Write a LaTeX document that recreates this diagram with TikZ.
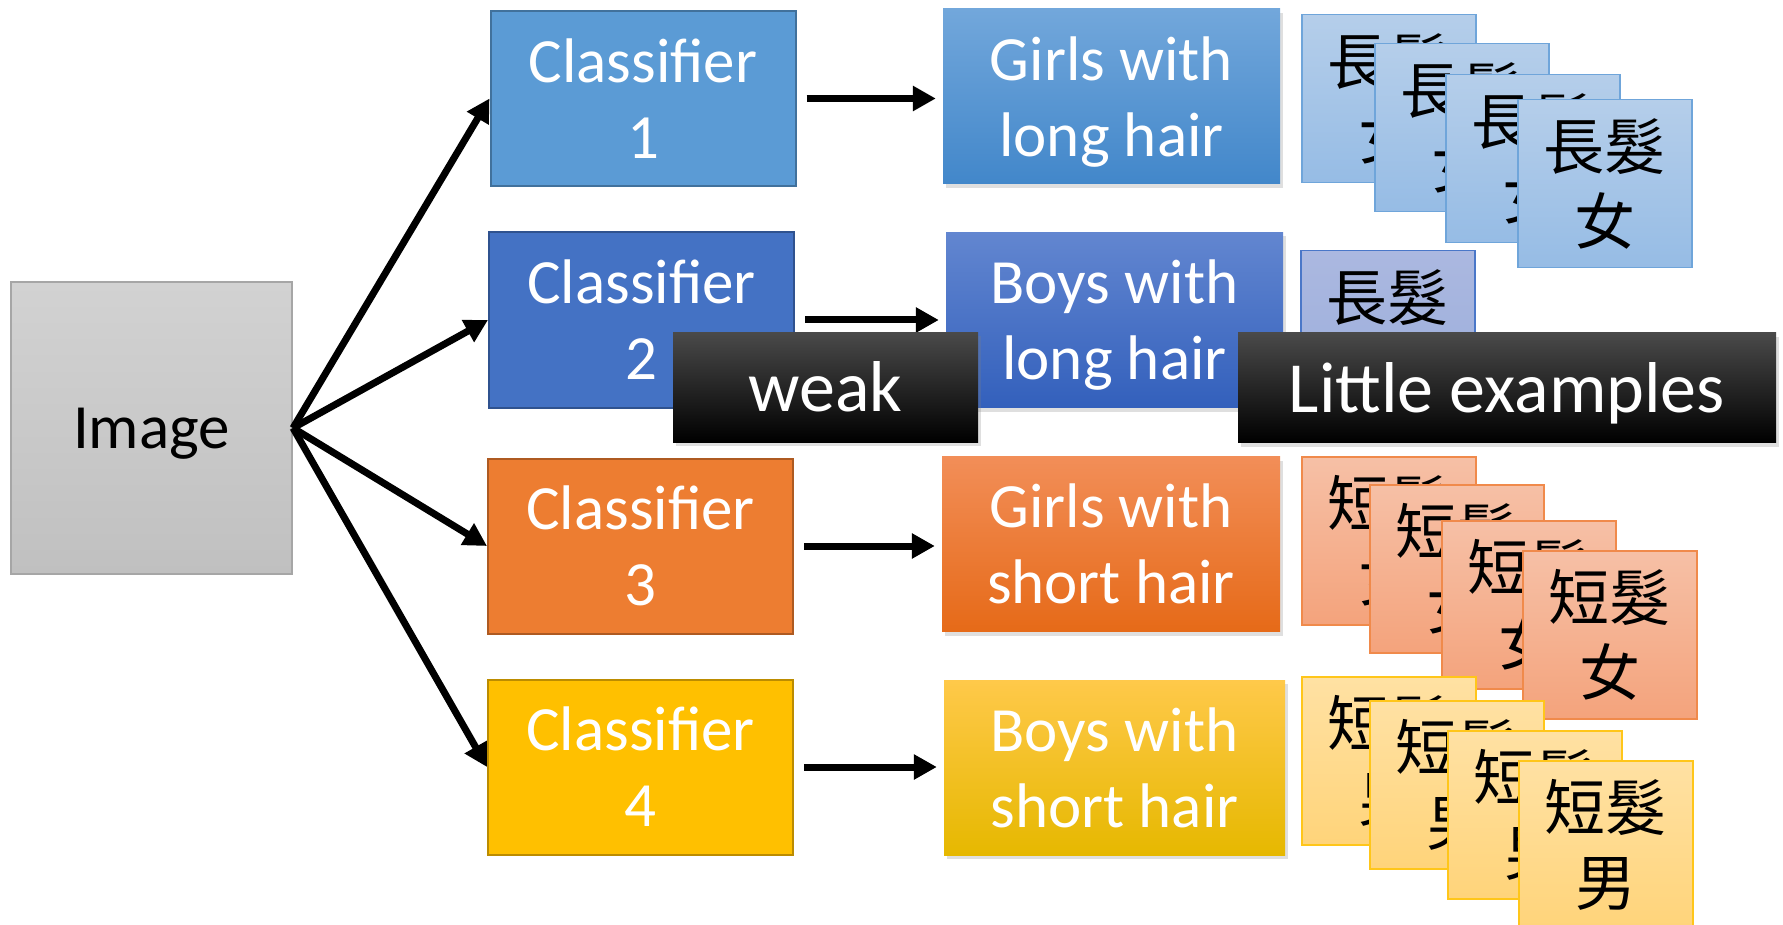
\documentclass[tikz,border=0pt]{standalone}
\usepackage{fontspec}
\setmainfont{Carlito}
\newfontfamily\cjkfont{Noto Sans CJK TC}
\usetikzlibrary{arrows.meta}
\usetikzlibrary{shadows}

\definecolor{imgtop}{HTML}{D2D2D2}
\definecolor{imgbot}{HTML}{C0C0C0}
\definecolor{imgline}{HTML}{A6A6A6}
\definecolor{clsA}{HTML}{5B9BD5}\definecolor{clsAline}{HTML}{41719C}
\definecolor{clsB}{HTML}{4472C4}\definecolor{clsBline}{HTML}{2F528F}
\definecolor{clsC}{HTML}{ED7D31}\definecolor{clsCline}{HTML}{AE5A21}
\definecolor{clsD}{HTML}{FFC000}\definecolor{clsDline}{HTML}{BC8C00}
\definecolor{resAtop}{HTML}{72A7DB}\definecolor{resAbot}{HTML}{4287CA}
\definecolor{resBtop}{HTML}{6286D0}\definecolor{resBbot}{HTML}{3360BC}
\definecolor{resCtop}{HTML}{F28E58}\definecolor{resCbot}{HTML}{E66A18}
\definecolor{resDtop}{HTML}{FFC94A}\definecolor{resDbot}{HTML}{E6B800}
\definecolor{cardAtop}{HTML}{B5CEEA}\definecolor{cardAbot}{HTML}{96BCE5}\definecolor{cardAline}{HTML}{6FA5DA}
\definecolor{cardBtop}{HTML}{ABB8E0}\definecolor{cardBbot}{HTML}{9AADDB}\definecolor{cardBline}{HTML}{4A77C8}
\definecolor{cardCtop}{HTML}{F6C0A6}\definecolor{cardCbot}{HTML}{F4A37C}\definecolor{cardCline}{HTML}{F08A4B}
\definecolor{cardDtop}{HTML}{FFE1A3}\definecolor{cardDbot}{HTML}{FFD47A}\definecolor{cardDline}{HTML}{FFC61A}
\definecolor{tagtop}{HTML}{4A4A4A}

\tikzset{
  clsbox/.style={draw, line width=2pt, minimum width=305pt, minimum height=175pt, inner sep=0pt,
    text=white, align=center, font=\fontsize{63}{76}\selectfont},
  resbox/.style={minimum height=175pt, inner sep=0pt, text=white, align=center, text depth=0pt,
    font=\fontsize{63}{76}\selectfont,
    drop shadow={shadow xshift=2.5pt, shadow yshift=-4pt, opacity=0.25}},
  card/.style={draw, line width=1.5pt, anchor=north west, minimum width=174pt, minimum height=168pt,
    inner sep=0pt, align=center, font={\cjkfont\fontsize{61}{75}\selectfont}},
  tag/.style={top color=tagtop, middle color=black, bottom color=black, minimum height=110pt,
    inner sep=0pt, text=white, text depth=0pt, font=\fontsize{72}{86}\selectfont,
    drop shadow={shadow xshift=2.5pt, shadow yshift=-4pt, opacity=0.25}},
  arr/.style={line width=7pt, -{Triangle[length=23pt, width=24pt]}}
}

\begin{document}
\begin{tikzpicture}[x=1pt, y=-1pt]
    \useasboundingbox (0,0) rectangle (1783,925);

    % input and the four classifiers
    \node[draw=imgline, line width=2pt, top color=imgtop, bottom color=imgbot, minimum width=281pt,
      minimum height=292pt, inner sep=0pt, text depth=0pt, font=\fontsize{63}{76}\selectfont] (img) at (151.5,428) {Image};
    \node[clsbox, fill=clsA, draw=clsAline] (cls1) at (643,98.5) {Classifier\\1};
    \node[clsbox, fill=clsB, draw=clsBline] (cls2) at (641.5,320) {Classifier\\2};
    \node[clsbox, fill=clsC, draw=clsCline] (cls3) at (640.5,546) {Classifier\\3};
    \node[clsbox, fill=clsD, draw=clsDline] (cls4) at (640.5,767) {Classifier\\4};

    \draw[arr] (img.east) -- (cls1.west);
    \draw[arr] (img.east) -- (cls2.west);
    \draw[arr] (img.east) -- (cls3.west);
    \draw[arr] (img.east) -- (cls4.west);

    % what each classifier picks out
    \node[resbox, minimum width=337pt, top color=resAtop, bottom color=resAbot] (res1) at (1111.5,96.5) {Girls with\\long hair};
    \node[resbox, minimum width=337pt, top color=resBtop, bottom color=resBbot] (res2) at (1114.5,320) {Boys with\\long hair};
    \node[resbox, minimum width=338pt, top color=resCtop, bottom color=resCbot] (res3) at (1111,544) {Girls with\\short hair};
    \node[resbox, minimum width=341pt, top color=resDtop, bottom color=resDbot] (res4) at (1114.5,767.5) {Boys with\\short hair};

    \draw[arr, shorten <=10pt, shorten >=7pt] (cls1.east) -- (cls1.east -| res1.west);
    \draw[arr, shorten <=10pt, shorten >=7pt] (cls2.east) -- (cls2.east -| res2.west);
    \draw[arr, shorten <=10pt, shorten >=7pt] (cls3.east) -- (cls3.east -| res3.west);
    \draw[arr, shorten <=10pt, shorten >=7pt] (cls4.east) -- (cls4.east -| res4.west);

    % training examples
    \node[card, draw=cardAline, top color=cardAtop, bottom color=cardAbot] (lgA) at (1301,14) {長髮\\女};
    \node[card, draw=cardAline, top color=cardAtop, bottom color=cardAbot] (lgB) at (1374,43) {長髮\\女};
    \node[card, draw=cardAline, top color=cardAtop, bottom color=cardAbot] (lgC) at (1445,74) {長髮\\女};
    \node[card, draw=cardAline, top color=cardAtop, bottom color=cardAbot] (lgD) at (1517,99) {長髮\\女};

    \node[card, draw=cardBline, top color=cardBtop, bottom color=cardBbot] (lbA) at (1300,250) {長髮\\\phantom{男}};

    \node[card, draw=cardCline, top color=cardCtop, bottom color=cardCbot] (sgA) at (1301,456) {短髮\\女};
    \node[card, draw=cardCline, top color=cardCtop, bottom color=cardCbot] (sgB) at (1369,484) {短髮\\女};
    \node[card, draw=cardCline, top color=cardCtop, bottom color=cardCbot] (sgC) at (1441,520) {短髮\\女};
    \node[card, draw=cardCline, top color=cardCtop, bottom color=cardCbot] (sgD) at (1522,550) {短髮\\女};

    \node[card, draw=cardDline, top color=cardDtop, bottom color=cardDbot] (sbA) at (1301,676) {短髮\\男};
    \node[card, draw=cardDline, top color=cardDtop, bottom color=cardDbot] (sbB) at (1369,700) {短髮\\男};
    \node[card, draw=cardDline, top color=cardDtop, bottom color=cardDbot] (sbC) at (1447,730) {短髮\\男};
    \node[card, draw=cardDline, top color=cardDtop, bottom color=cardDbot] (sbD) at (1518,760) {短髮\\男};

    % black tags on top
    \node[tag, minimum width=305pt] (weak) at (825.5,387) {weak};
    \node[tag, minimum width=538pt] (few) at (1507,387.5) {Little examples};
\end{tikzpicture}
\end{document}
